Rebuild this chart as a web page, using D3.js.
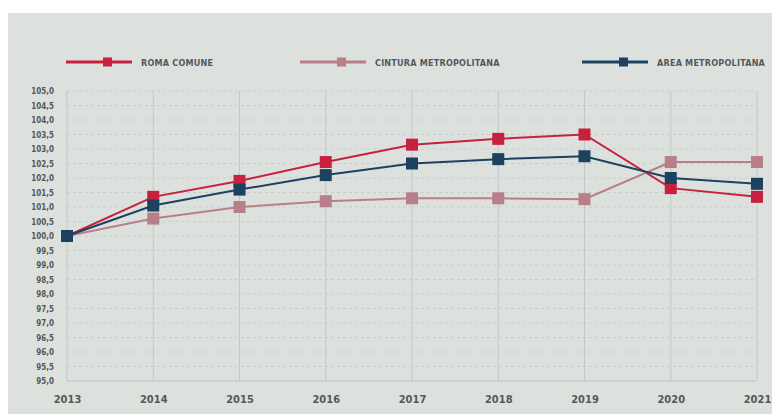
<!DOCTYPE html>
<html>
<head>
<meta charset="utf-8">
<script src="https://cdn.jsdelivr.net/npm/d3@7"></script>
<style>
  html, body { margin: 0; padding: 0; background: #ffffff; }
  svg { display: block; }
  text { font-family: "Liberation Sans Narrow", "DejaVu Sans Condensed", "Roboto", sans-serif; font-weight: bold; fill: #55585a; }
</style>
</head>
<body>
<svg id="chart" width="772" height="414"></svg>
<script>
// Index numbers, 2013 = 100
const years = [2013, 2014, 2015, 2016, 2017, 2018, 2019, 2020, 2021];
const romaComune = [100.0, 101.35, 101.9, 102.55, 103.15, 103.35, 103.5, 101.65, 101.35];
const cinturaMetropolitana = [100.0, 100.6, 101.0, 101.2, 101.3, 101.3, 101.27, 102.55, 102.55];
const areaMetropolitana = [100.0, 101.05, 101.6, 102.1, 102.5, 102.65, 102.75, 102.0, 101.8];
const yTicks = d3.range(95, 105.01, 0.5);

const seriesNames = ["ROMA COMUNE", "CINTURA METROPOLITANA", "AREA METROPOLITANA"];
const seriesColors = ["#c8213f", "#b97f88", "#1c4260"];
const seriesValues = [romaComune, cinturaMetropolitana, areaMetropolitana];

const svg = d3.select("#chart");

// panel background
svg.append("rect").attr("x", 8).attr("y", 13).attr("width", 764).attr("height", 401).attr("fill", "#dde1de");

const x = d3.scalePoint().domain(years).range([67, 757]);
const y = d3.scaleLinear().domain([95, 105]).range([381, 91]);

// horizontal dashed grid
svg.append("g").selectAll("line").data(yTicks).join("line")
  .attr("x1", 67).attr("x2", 757)
  .attr("y1", d => y(d)).attr("y2", d => y(d))
  .attr("stroke", "#c9cecb").attr("stroke-width", 1)
  .attr("stroke-dasharray", "3,3");

// vertical grid at each year
svg.append("g").selectAll("line").data(years).join("line")
  .attr("x1", d => x(d)).attr("x2", d => x(d))
  .attr("y1", y(105)).attr("y2", y(95))
  .attr("stroke", "#c3c8c5").attr("stroke-width", 1);

// bottom frame line
svg.append("line").attr("x1", 67).attr("x2", 757).attr("y1", y(95)).attr("y2", y(95))
  .attr("stroke", "#c3c8c5").attr("stroke-width", 1);

// y axis labels
const yAxis = d3.axisLeft(y).tickValues(yTicks).tickSize(0).tickPadding(0)
  .tickFormat(d => d3.format(".1f")(d).replace(".", ","));
const gy = svg.append("g").attr("transform", "translate(54,0)").call(yAxis);
gy.select(".domain").remove();
gy.selectAll("text").attr("font-size", 8).attr("fill", "#55585a")
  .style("font-family", '"Liberation Sans Narrow", "DejaVu Sans Condensed", sans-serif')
  .style("font-weight", "bold");

// x axis labels
const xAxis = d3.axisBottom(x).tickSize(0).tickPadding(0).tickFormat(d3.format("d"));
const gx = svg.append("g").attr("transform", "translate(0,395)").call(xAxis);
gx.select(".domain").remove();
gx.selectAll("text").attr("font-size", 11).attr("fill", "#55585a")
  .style("font-family", '"Liberation Sans Narrow", "DejaVu Sans Condensed", sans-serif')
  .style("font-weight", "bold");

// series lines and markers
const line = d3.line().x((d, i) => x(years[i])).y(d => y(d));
seriesValues.forEach((vals, s) => {
  const g = svg.append("g");
  g.append("path").datum(vals).attr("d", line)
    .attr("fill", "none").attr("stroke", seriesColors[s]).attr("stroke-width", 2);
  g.selectAll("rect").data(vals).join("rect")
    .attr("x", (d, i) => x(years[i]) - 6).attr("y", d => y(d) - 6)
    .attr("width", 12).attr("height", 12)
    .attr("fill", seriesColors[s]);
});

// legend
const legendX = [66, 300, 582];
seriesNames.forEach((name, s) => {
  const g = svg.append("g").attr("transform", `translate(${legendX[s]},62)`);
  g.append("line").attr("x1", 0).attr("x2", 66).attr("y1", 0).attr("y2", 0)
    .attr("stroke", seriesColors[s]).attr("stroke-width", 3);
  g.append("rect").attr("x", 37).attr("y", -4.5).attr("width", 9).attr("height", 9)
    .attr("fill", seriesColors[s]);
  g.append("text").attr("x", 75).attr("y", 3.5).attr("font-size", 9)
    .attr("letter-spacing", 0.2).text(name);
});
</script>
</body>
</html>
